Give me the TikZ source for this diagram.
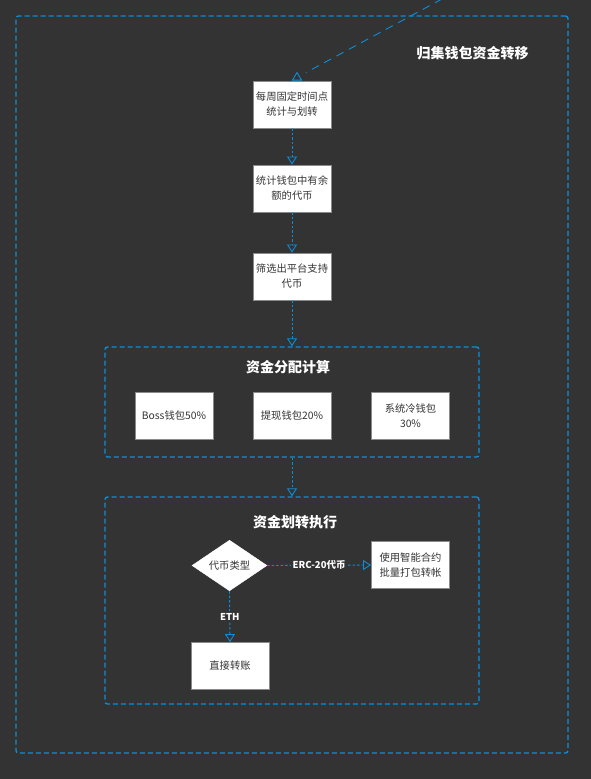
\documentclass[tikz,border=0pt]{standalone}
\usepackage{fontspec}
\setmainfont{Noto Sans CJK SC}
\usetikzlibrary{arrows.meta,shapes.geometric,calc}
\definecolor{bg}{HTML}{333333}
\definecolor{blu}{HTML}{0A8ED9}
\definecolor{boxline}{HTML}{8A8A8A}
\definecolor{txt}{HTML}{333333}
\begin{document}
\begin{tikzpicture}[x=1pt,y=-1pt,
  box/.style={draw=boxline, fill=white, line width=0.9pt, minimum width=78pt, minimum height=47pt,
    text=txt, font=\fontsize{10.3}{15}\selectfont, align=center, inner sep=0pt},
  grp/.style={draw=blu, line width=1.4pt, dash pattern=on 5pt off 3pt, rounded corners=2.5pt, inner sep=0pt},
  flow/.style={draw=blu, line width=0.9pt, dash pattern=on 2.5pt off 2pt,
    -{Triangle[open, length=8pt, width=10pt, line width=0.9pt]}},
  ttl/.style={text=white, font=\fontsize{14}{16}\selectfont\bfseries, inner sep=0pt},
  lbl/.style={text=white, fill=bg, font=\fontsize{9.5}{11}\selectfont\bfseries, inner sep=2pt},
  diag/.style={draw=blu, line width=0.9pt, dash pattern=on 8pt off 6pt}]
\fill[bg] (0,0) rectangle (591,779);
\useasboundingbox (0,0) rectangle (591,779);

% outer group
\node[grp, minimum width=552pt, minimum height=737pt] (outer) at (292,384.5) {};
\node[ttl] (t0) at (472.5,53) {归集钱包资金转移};

% steps
\node[box] (b1) at (292,104.5) {每周固定时间点\\统计与划转};
\node[box] (b2) at (292,188.5) {统计钱包中有余\\额的代币};
\node[box] (b3) at (292,276.5) {筛选出平台支持\\代币};

% group 1
\node[grp, minimum width=374pt, minimum height=110pt] (g1) at (292,402) {};
\node[ttl] (t1) at (288,367) {资金分配计算};
\node[box] (c1) at (174,415.5) {Boss钱包50\%};
\node[box] (c2) at (292,415.5) {提现钱包20\%};
\node[box] (c3) at (410.5,415.5) {系统冷钱包\\30\%};

% group 2
\node[grp, minimum width=374pt, minimum height=207pt] (g2) at (292,600.5) {};
\node[ttl] (t2) at (295,522) {资金划转执行};
\node[diamond, draw=white, fill=white, minimum width=75pt, minimum height=45pt, inner sep=0pt,
  text=txt, font=\fontsize{10.3}{12}\selectfont] (d) at (229.5,565.5) {代币类型};
\node[box] (e1) at (410.5,565) {使用智能合约\\批量打包转帐};
\node[box] (e2) at (230,666) {直接转账};

% connectors
\draw[flow] (b1) -- (b2);
\draw[flow] (b2) -- (b3);
\draw[flow] (b3) -- (g1);
\draw[flow] (g1) -- (g2);
\draw[flow] (d.east) -- node[lbl] {ERC-20代币} (e1.west);
\draw[flow] (d.south) -- node[lbl] {ETH} (e2.north);

% incoming diagonal link
\coordinate (s) at (442,-1);
\coordinate (tipA) at ($(b1.north)+(5,-8)$);
\draw[diag] (s) -- ($(b1.north)+(14,-8)$);
\draw[draw=blu, line width=0.9pt, fill=bg] ($(b1.north)+(0.5,-0.5)$) -- ($(b1.north)+(9.5,-0.5)$) -- (tipA) -- cycle;
\end{tikzpicture}
\end{document}
